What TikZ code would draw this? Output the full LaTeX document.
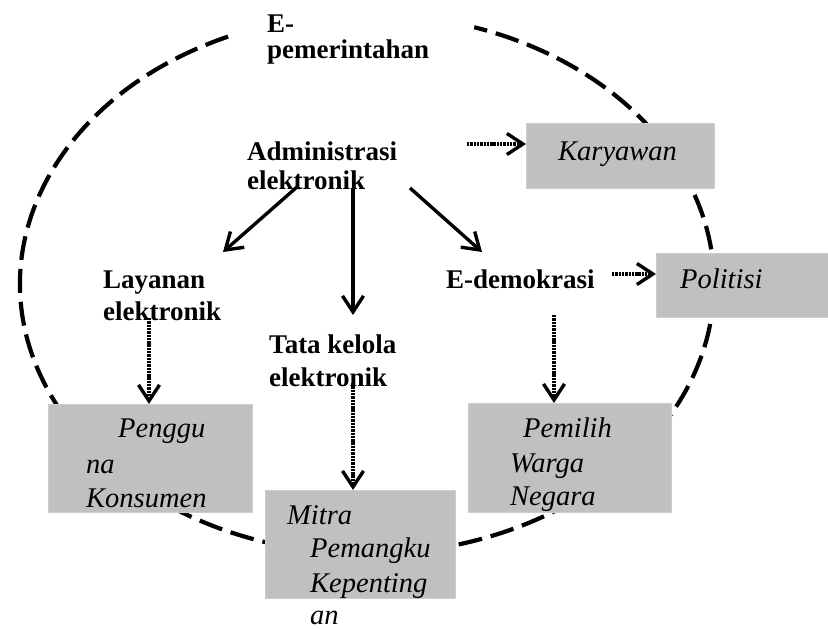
\documentclass[tikz,border=0pt]{standalone}
\usepackage{fontspec}
\setmainfont{Liberation Serif}
\usetikzlibrary{arrows.meta}
\definecolor{boxgray}{RGB}{192,192,192}
\definecolor{boxedge}{RGB}{205,205,205}
\begin{document}
\begin{tikzpicture}[x=1pt,y=-1pt,
  lbl/.style={anchor=base west, inner sep=0pt, font=\fontsize{27}{32}\selectfont\bfseries},
  ilbl/.style={anchor=base west, inner sep=0pt, font=\fontsize{28.5}{33}\selectfont\itshape},
  box/.style={draw=boxedge, fill=boxgray, line width=0.6pt, inner sep=0pt, anchor=north west},
  oval/.style={line width=4.2pt, dash pattern=on 24pt off 9pt},
  arr/.style={line width=3.4pt, -{Straight Barb[length=16pt,width=21pt]}},
  darr/.style={line width=3.2pt, dash pattern=on 2.4pt off 0.9pt, -{Straight Barb[length=16pt,width=21pt,line width=3.4pt]}}]
\useasboundingbox (0,0) rectangle (828,629);
% dashed oval
\coordinate (oc) at (367,284);
\draw[oval] (oc) ++(113.6:347pt and 270pt) arc[start angle=113.6, end angle=432, x radius=347pt, y radius=270pt];
% boxes
\node[box, minimum width=188pt, minimum height=65pt] (karyawan) at (526,123) {};
\node[box, minimum width=176pt, minimum height=64pt] (politisi) at (656,253) {};
\node[box, minimum width=204pt, minimum height=108pt] (penggu) at (48,404) {};
\node[box, minimum width=203pt, minimum height=109pt] (pemilih) at (468,403) {};
\node[box, minimum width=190pt, minimum height=108pt] (mitra) at (265,490) {};
% bold labels
\node[lbl] (eg1) at (267,32) {E-};
\node[lbl] (eg2) at (267,58) {pemerintahan};
\node[lbl] (ad1) at (247,160) {Administrasi};
\node[lbl] (ad2) at (247,189) {elektronik};
\node[lbl] (la1) at (103,288) {Layanan};
\node[lbl] (la2) at (103,320) {elektronik};
\node[lbl] (ta1) at (269,353) {Tata kelola};
\node[lbl] (ta2) at (269,386) {elektronik};
\node[lbl] (ed) at (446,288) {E-demokrasi};
% italic labels
\node[ilbl] (kt) at (558,160) {Karyawan};
\node[ilbl] (pt) at (680,288) {Politisi};
\node[ilbl] (pg1) at (118,437) {Penggu};
\node[ilbl] (pg2) at (86,473) {na};
\node[ilbl] (pg3) at (86,507) {Konsumen};
\node[ilbl] (pm1) at (523,437) {Pemilih};
\node[ilbl] (pm2) at (510,472) {Warga};
\node[ilbl] (pm3) at (510,505) {Negara};
\node[ilbl] (mi1) at (287,524) {Mitra};
\node[ilbl] (mi2) at (310,557) {Pemangku};
\node[ilbl] (mi3) at (310,592) {Kepenting};
\node[ilbl] (mi4) at (310,624) {an};
% arrow start points
\coordinate (ks) at (467,144);
\coordinate (ps) at (612,274);
\coordinate (ls) at (149,318);
\coordinate (ts) at (353,383);
\coordinate (es) at (554,315);
\coordinate (a1s) at (297,187);
\coordinate (a1e) at (223,252);
\coordinate (a2s) at (353,188);
\coordinate (a2e) at (353,315);
\coordinate (a3s) at (410,188);
\coordinate (a3e) at (482,252);
% solid arrows
\draw[arr] (a1s) -- (a1e);
\draw[arr] (a2s) -- (a2e);
\draw[arr] (a3s) -- (a3e);
% dotted arrows
\draw[darr] (ks) -- (ks -| karyawan.west);
\draw[darr] (ps) -- (ps -| politisi.west);
\draw[darr] (ls) -- (ls |- penggu.north);
\draw[darr] (ts) -- (ts |- mitra.north);
\draw[darr] (es) -- (es |- pemilih.north);
\end{tikzpicture}
\end{document}
